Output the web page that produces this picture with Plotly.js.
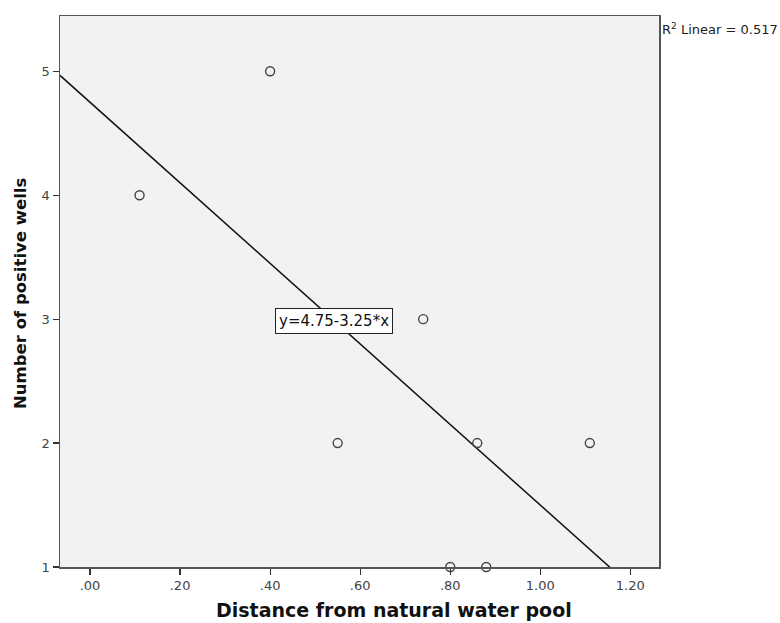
<!DOCTYPE html>
<html>
<head>
<meta charset="utf-8">
<script src="https://cdn.plot.ly/plotly-3.0.1.min.js"></script>
<style>html,body{margin:0;padding:0;background:#fff;}#chart{width:780px;height:623px;}</style>
</head>
<body>
<div id="chart"></div>
<script>
// Data
const distance = [0.11, 0.40, 0.55, 0.74, 0.80, 0.86, 0.88, 1.11];
const positiveWells = [4, 5, 2, 3, 1, 2, 1, 2];
const fitIntercept = 4.75;
const fitSlope = -3.25;
const rSquared = 0.517;
const xTickVals = [0, 0.2, 0.4, 0.6, 0.8, 1.0, 1.2];
const xTickText = ['.00', '.20', '.40', '.60', '.80', '1.00', '1.20'];
const yTickVals = [1, 2, 3, 4, 5];
const xTitle = 'Distance from natural water pool';
const yTitle = 'Number of positive wells';

const xRange = [-0.0667, 1.2637];
const yRange = [1, 5.446];

const lineX = [xRange[0], xRange[1]];
const lineY = lineX.map(x => fitIntercept + fitSlope * x);

const fontFam = 'DejaVu Sans, Open Sans, sans-serif';

const traces = [
  {
    x: lineX, y: lineY, mode: 'lines', type: 'scatter',
    line: {color: '#111', width: 1.5}, hoverinfo: 'skip', showlegend: false
  },
  {
    x: distance, y: positiveWells, mode: 'markers', type: 'scatter',
    marker: {symbol: 'circle-open', size: 9, color: '#444', line: {width: 1.4, color: '#444'}},
    showlegend: false, cliponaxis: false
  }
];

const layout = {
  width: 780, height: 623,
  margin: {l: 60, r: 121, t: 16, b: 56},
  paper_bgcolor: '#ffffff',
  plot_bgcolor: '#f2f2f2',
  font: {family: fontFam, size: 13, color: '#333'},
  xaxis: {
    range: xRange, tickvals: xTickVals, ticktext: xTickText,
    showgrid: false, zeroline: false,
    ticks: 'outside', ticklen: 6, tickwidth: 1.2, tickcolor: '#333',
    showline: true, linecolor: '#555', linewidth: 1.5, mirror: true,
    tickfont: {family: fontFam, size: 13, color: '#444'}
  },
  yaxis: {
    range: yRange, tickvals: yTickVals,
    showgrid: false, zeroline: false,
    ticks: 'outside', ticklen: 6, tickwidth: 1.2, tickcolor: '#333',
    showline: true, linecolor: '#555', linewidth: 1.5, mirror: true,
    tickfont: {family: fontFam, size: 13, color: '#444'}
  },
  annotations: [
    {
      xref: 'paper', yref: 'paper', x: 1.0, y: 1.0, xanchor: 'left', yanchor: 'top',
      xshift: 1, yshift: -3,
      text: 'R<sup>2</sup> Linear = ' + rSquared.toFixed(3), showarrow: false,
      font: {family: fontFam, size: 13, color: '#222'}
    },
    {
      xref: 'x', yref: 'y', x: 0.542, y: 2.985, xanchor: 'center', yanchor: 'middle',
      text: 'y=' + fitIntercept.toFixed(2) + '-' + Math.abs(fitSlope).toFixed(2) + '*x', showarrow: false,
      bgcolor: '#ffffff', bordercolor: '#222', borderwidth: 1, borderpad: 3,
      font: {family: fontFam, size: 15, color: '#111'}
    },
    {
      xref: 'paper', yref: 'paper', x: 0.5576, y: 0, xanchor: 'center', yanchor: 'middle',
      yshift: -43,
      text: '<b>' + xTitle + '</b>', showarrow: false,
      font: {family: fontFam, size: 19, color: '#111'}
    },
    {
      xref: 'paper', yref: 'paper', x: -0.0651, y: 0.4955, xanchor: 'center', yanchor: 'middle',
      textangle: -90,
      text: '<b>' + yTitle + '</b>', showarrow: false,
      font: {family: fontFam, size: 16.5, color: '#111'}
    }
  ]
};

Plotly.newPlot('chart', traces, layout, {displayModeBar: false, staticPlot: true});
</script>
</body>
</html>
